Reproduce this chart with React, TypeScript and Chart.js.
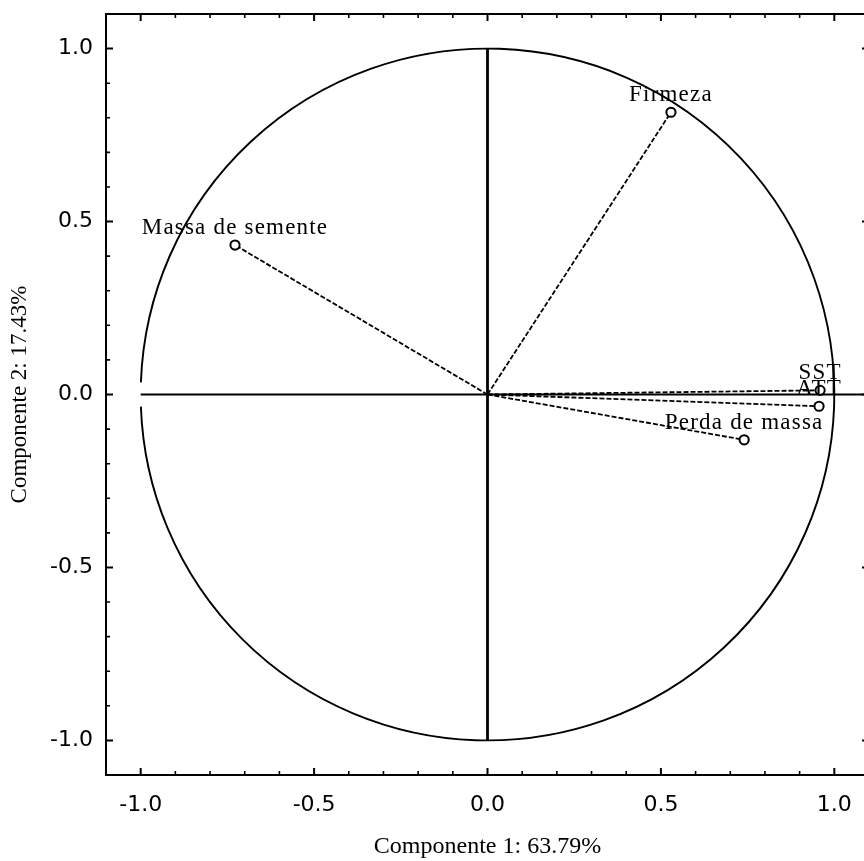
import React, { useEffect, useRef } from "react";
import { Chart, registerables } from "chart.js";

Chart.register(...registerables);

// ---- data ----
const variableNames = ["Firmeza", "Massa de semente", "SST", "ATT", "Perda de massa"];
const component1 = [0.529, -0.728, 0.959, 0.956, 0.74];
const component2 = [0.816, 0.432, 0.012, -0.034, -0.131];
const xTickValues = [-1.0, -0.5, 0.0, 0.5, 1.0];
const yTickValues = [-1.0, -0.5, 0.0, 0.5, 1.0];
const xTitle = "Componente 1: 63.79%";
const yTitle = "Componente 2: 17.43%";

const CANVAS_W = 880;
const CANVAS_H = 861;

const pcaPlugin = {
  id: "pcaDecor",
  beforeDatasetsDraw(chart: any) {
    const { ctx, chartArea: a, scales } = chart;
    const x = scales.x;
    const y = scales.y;
    const cx = x.getPixelForValue(0);
    const cy = y.getPixelForValue(0);
    const rx = x.getPixelForValue(1) - cx;
    const ry = cy - y.getPixelForValue(1);
    ctx.save();
    ctx.strokeStyle = "#000";
    ctx.lineWidth = 1.9;
    const g = 0.035;
    ctx.beginPath();
    ctx.ellipse(cx, cy, rx, ry, 0, Math.PI + g, 3 * Math.PI - g);
    ctx.stroke();
    ctx.lineWidth = 2.2;
    ctx.beginPath();
    ctx.moveTo(x.getPixelForValue(-1), cy);
    ctx.lineTo(a.right, cy);
    ctx.stroke();
    ctx.lineWidth = 2.8;
    ctx.beginPath();
    ctx.moveTo(cx, y.getPixelForValue(1));
    ctx.lineTo(cx, y.getPixelForValue(-1));
    ctx.stroke();
    ctx.restore();
  },
  afterDatasetsDraw(chart: any) {
    const { ctx, scales } = chart;
    const x = scales.x;
    const y = scales.y;
    ctx.save();
    ctx.fillStyle = "#000";
    ctx.font = '23px "Liberation Serif"';
    try {
      (ctx as any).letterSpacing = "1.2px";
    } catch (e) {}
    ctx.textAlign = "center";
    ctx.textBaseline = "alphabetic";
    variableNames.forEach((name, i) => {
      const px = x.getPixelForValue(component1[i]);
      const py = y.getPixelForValue(component2[i]);
      ctx.fillText(name, px, py - 11);
    });
    ctx.restore();
  },
  afterDraw(chart: any) {
    const { ctx, chartArea: a, scales } = chart;
    const x = scales.x;
    const y = scales.y;
    ctx.save();
    ctx.strokeStyle = "#000";
    ctx.lineWidth = 2;
    ctx.strokeRect(a.left, a.top, a.right - a.left, a.bottom - a.top);
    for (let k = -11; k <= 11; k++) {
      const v = k / 10;
      const major = k % 5 === 0;
      const len = major ? 7 : 4;
      ctx.lineWidth = major ? 2 : 1.6;
      const px = x.getPixelForValue(v);
      const py = y.getPixelForValue(v);
      ctx.beginPath();
      if (px > a.left + 1 && px < a.right - 1) {
        ctx.moveTo(px, a.bottom);
        ctx.lineTo(px, a.bottom - len);
        ctx.moveTo(px, a.top);
        ctx.lineTo(px, a.top + len);
      }
      if (py > a.top + 1 && py < a.bottom - 1) {
        ctx.moveTo(a.left, py);
        ctx.lineTo(a.left + len, py);
        ctx.moveTo(a.right, py);
        ctx.lineTo(a.right - len, py);
      }
      ctx.stroke();
    }
    ctx.restore();
  },
};

export default function App() {
  const canvasRef = useRef<HTMLCanvasElement | null>(null);

  useEffect(() => {
    if (!canvasRef.current) return;
    const datasets = variableNames.map((name, i) => ({
      label: name,
      data: [
        { x: 0, y: 0 },
        { x: component1[i], y: component2[i] },
      ],
      showLine: true,
      borderColor: "#000",
      borderWidth: 1.8,
      borderDash: [5, 2],
      pointRadius: (c: any) => (c.dataIndex === 0 ? 0 : 4.6),
      pointBackgroundColor: "#fff",
      pointBorderColor: "#000",
      pointBorderWidth: 2,
      pointHoverRadius: 0,
    }));

    const chart = new Chart(canvasRef.current, {
      type: "scatter",
      data: { datasets },
      options: {
        animation: false,
        responsive: false,
        events: [],
        layout: { padding: { top: 14, right: 11, left: 0, bottom: 0 } },
        plugins: {
          legend: { display: false },
          tooltip: { enabled: false },
        },
        scales: {
          x: {
            type: "linear",
            min: -1.1,
            max: 1.1,
            afterBuildTicks: (s: any) => {
              s.ticks = xTickValues.map((v) => ({ value: v }));
            },
            afterFit: (s: any) => {
              s.height = 86;
              s.paddingLeft = 0;
              s.paddingRight = 0;
            },
            grid: { display: false, drawTicks: false },
            border: { display: false },
            ticks: {
              autoSkip: false,
              maxRotation: 0,
              padding: 17,
              color: "#000",
              font: { family: '"DejaVu Sans"', size: 22 },
              callback: (v: any) => Number(v).toFixed(1),
            },
            title: {
              display: true,
              text: xTitle,
              color: "#000",
              font: { family: '"Liberation Serif"', size: 24 },
              padding: { top: 0, bottom: 0 },
            },
          },
          y: {
            type: "linear",
            min: -1.1,
            max: 1.1,
            afterBuildTicks: (s: any) => {
              s.ticks = yTickValues.map((v) => ({ value: v }));
            },
            afterFit: (s: any) => {
              s.width = 106;
              s.paddingTop = 0;
              s.paddingBottom = 0;
            },
            grid: { display: false, drawTicks: false },
            border: { display: false },
            ticks: {
              autoSkip: false,
              padding: 13,
              color: "#000",
              font: { family: '"DejaVu Sans"', size: 22 },
              callback: (v: any) => Number(v).toFixed(1),
            },
            title: {
              display: true,
              text: yTitle,
              color: "#000",
              font: { family: '"Liberation Serif"', size: 23 },
              padding: { top: 6, bottom: 0 },
            },
          },
        },
      },
      plugins: [pcaPlugin],
    } as any);

    return () => chart.destroy();
  }, []);

  return (
    <div
      style={{
        position: "fixed",
        left: 0,
        top: 0,
        width: CANVAS_W,
        height: CANVAS_H,
        background: "#fff",
      }}
    >
      <canvas ref={canvasRef} width={CANVAS_W} height={CANVAS_H} />
    </div>
  );
}
